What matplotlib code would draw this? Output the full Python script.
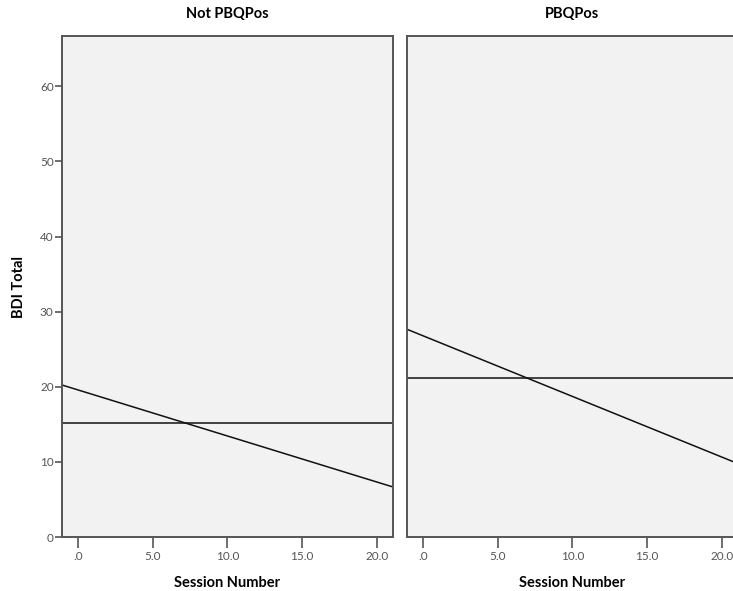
import matplotlib.pyplot as plt

# Fit lines of BDI total vs session number, split by PBQ status
panels = ['Not PBQPos', 'PBQPos']
intercepts = [19.58, 26.79]
slopes = [-0.613, -0.8075]
means = [15.14, 21.2]

x_ticks = [0, 5, 10, 15, 20]
x_tick_labels = ['.0', '5.0', '10.0', '15.0', '20.0']
y_ticks = [0, 10, 20, 30, 40, 50, 60]

plt.rcParams['font.family'] = ['Lato', 'DejaVu Sans']

fig = plt.figure(figsize=(7.33, 5.91), dpi=100)
frame_col = '#555555'

lefts = [62 / 733, 407 / 733]
for i, name in enumerate(panels):
    ax = fig.add_axes([lefts[i], 54 / 591, 331 / 733, 501 / 591])
    ax.set_facecolor('#f2f2f2')
    ax.set_xlim(-1.07, 21.08)
    ax.set_ylim(0, 66.7)

    # regression line and mean reference line
    ax.axline((0, intercepts[i]), slope=slopes[i], color='#111111', lw=1.1)
    ax.axhline(means[i], color='#111111', lw=1.1)

    for sp in ax.spines.values():
        sp.set_color(frame_col)
        sp.set_linewidth(1.4)

    ax.set_xticks(x_ticks)
    ax.set_xticklabels(x_tick_labels)
    ax.tick_params(axis='x', length=8, width=1.2, color=frame_col,
                   labelsize=8.5, labelcolor='#555555', pad=2)
    ax.set_xlabel('Session Number', fontsize=10.5, fontweight='bold', labelpad=10)
    ax.set_title(name, fontsize=10.5, fontweight='bold', pad=13)

    if i == 0:
        ax.set_yticks(y_ticks)
        ax.tick_params(axis='y', length=5, width=1.2, color=frame_col,
                       labelsize=8.5, labelcolor='#555555', pad=1)
        ax.set_ylabel('BDI Total', fontsize=10.5, fontweight='bold', labelpad=10)
    else:
        ax.set_yticks([])

fig.savefig('out.png', dpi=100)
